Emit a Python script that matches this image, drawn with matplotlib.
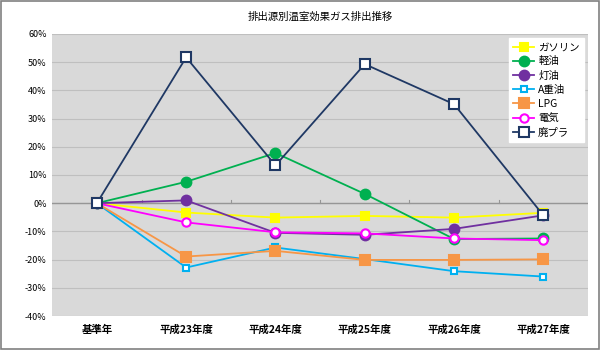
import matplotlib.pyplot as plt
import numpy as np
from matplotlib.patches import Rectangle
from matplotlib.ticker import FuncFormatter

plt.rcParams['font.family'] = ['Noto Sans CJK JP', 'DejaVu Sans']

# 年度ごとの排出量（基準年比 %）
years = ['基準年', '平成23年度', '平成24年度', '平成25年度', '平成26年度', '平成27年度']

gasoline = [0, -3.3, -5.1, -4.5, -5.1, -3.4]
keiyu = [0, 7.6, 17.8, 3.3, -12.7, -12.5]
touyu = [0, 1.0, -10.5, -11.2, -9.1, -4.3]
a_juyu = [0, -22.8, -15.7, -19.8, -24.1, -26.0]
lpg = [0, -18.9, -16.9, -20.1, -20.1, -19.9]
denki = [0, -6.8, -10.3, -10.7, -12.5, -13.1]
haipura = [0, 51.7, 13.4, 49.3, 35.1, -4.3]

series = [
    ('ガソリン', gasoline, '#FFFF00', 's', '#FFFF00', 6),
    ('軽油', keiyu, '#00B050', 'o', '#00B050', 7),
    ('灯油', touyu, '#7030A0', 'o', '#7030A0', 7),
    ('A重油', a_juyu, '#00B0F0', 's', 'white', 5),
    ('LPG', lpg, '#F79646', 's', '#F79646', 7),
    ('電気', denki, '#FF00FF', 'o', 'white', 6),
    ('廃プラ', haipura, '#1F3864', 's', 'white', 6.5),
]

fig = plt.figure(figsize=(6, 3.5), dpi=100)
ax = fig.add_axes([0.087, 0.097, 0.893, 0.806])
ax.set_facecolor('#D9D9D9')

x = np.arange(len(years))
for name, vals, col, mk, fc, ms in series:
    ax.plot(x, vals, color=col, lw=1.3, marker=mk, markersize=ms,
            markerfacecolor=fc, markeredgecolor=col, markeredgewidth=1.5,
            label=name)

ax.set_xlim(-0.5, len(years) - 0.5)
ax.set_ylim(-40, 60)
ax.set_yticks(np.arange(-40, 61, 10))
ax.yaxis.set_major_formatter(FuncFormatter(lambda v, p: f'{int(v)}%'))
ax.set_xticks(x)
ax.set_xticklabels(years, fontsize=7.5, fontweight='bold')
ax.tick_params(axis='y', labelsize=6.5, length=0, pad=4)
ax.tick_params(axis='x', length=0, pad=6)
ax.grid(axis='y', color='#BFBFBF', lw=0.8)
ax.set_axisbelow(True)
for s in ax.spines.values():
    s.set_visible(False)

# 0% の横軸と区切り目盛
ax.axhline(0, color='#969696', lw=1, zorder=1)
for b in x[:-1] + 0.5:
    ax.plot([b, b], [0, 1.0], color='#969696', lw=0.8, zorder=1)

ax.set_title('排出源別温室効果ガス排出推移', fontsize=7.5, pad=10)

leg = ax.legend(loc='upper right', fontsize=7.5, frameon=True, fancybox=False,
                framealpha=1, edgecolor='white', borderaxespad=0.4,
                handlelength=2.0, handletextpad=0.4, labelspacing=0.4,
                borderpad=0.4)

fig.patches.append(Rectangle((0.002, 0.003), 0.996, 0.994, transform=fig.transFigure,
                             fill=False, edgecolor='#808080', lw=1.2))

fig.savefig('out.png', dpi=100)
